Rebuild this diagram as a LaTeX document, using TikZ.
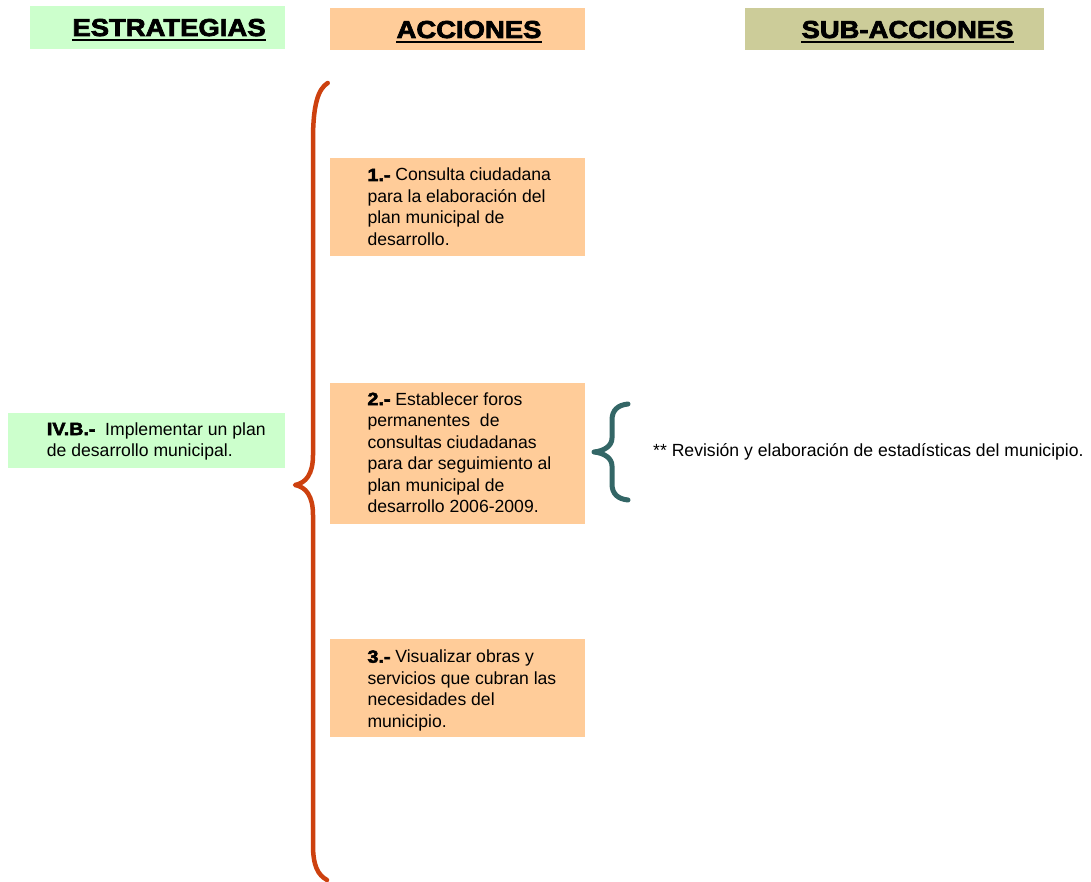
\documentclass[tikz,border=0pt]{standalone}
\usepackage{fontspec}
\setmainfont{Liberation Sans}
\newfontfamily\heavyfont{Liberation Sans Bold}[FakeBold=3,FakeStretch=1.12]
\definecolor{stratgreen}{RGB}{204,255,204}
\definecolor{actpeach}{RGB}{255,204,153}
\definecolor{subkhaki}{RGB}{204,204,153}
\definecolor{bracered}{RGB}{205,65,15}
\definecolor{braceteal}{RGB}{51,102,102}
\newcommand{\bodysize}{\fontsize{17.6}{21.5}\selectfont}
\newcommand{\blk}[1]{{\heavyfont #1}}
\begin{document}
\begin{tikzpicture}[x=1pt,y=-1pt,
  panel/.style={draw=none,inner sep=0,outer sep=0,anchor=north west},
  headtext/.style={inner sep=0,anchor=base,font=\heavyfont\fontsize{24.5}{28}\selectfont},
  bodytext/.style={inner sep=0,anchor=base west},
  uline/.style={line width=2pt},
  bigbrace/.style={draw=bracered,line width=4.5pt,line cap=round,line join=round},
  smallbrace/.style={draw=braceteal,line width=5pt,line cap=round,line join=round}]
\useasboundingbox (0,0) rectangle (1091,882);

% column headers
\node[panel,fill=stratgreen,minimum width=255pt,minimum height=43pt] (hE) at (30,6) {};
\node[panel,fill=actpeach,minimum width=255pt,minimum height=42pt] (hA) at (329.5,8) {};
\node[panel,fill=subkhaki,minimum width=299pt,minimum height=42pt] (hS) at (745,8) {};
\node[headtext] (tE) at (169,36) {ESTRATEGIAS};
\node[headtext] (tA) at (469,38) {ACCIONES};
\node[headtext] (tS) at (907.5,38) {SUB-ACCIONES};
\foreach \t in {tE,tA,tS}
  \draw[uline] ([yshift=-4.5pt]\t.base west) -- ([yshift=-4.5pt]\t.base east);

% strategy
\node[panel,fill=stratgreen,minimum width=277pt,minimum height=55pt] (st) at (8,413) {};
\node[bodytext] (stt) at (46.7,435) {\parbox[t]{235pt}{\bodysize\raggedright
  \blk{IV.B.-}\ \ Implementar un plan\\de desarrollo municipal.}};

% actions
\node[panel,fill=actpeach,minimum width=255pt,minimum height=97.7pt] (a1) at (329.5,158.3) {};
\node[panel,fill=actpeach,minimum width=255pt,minimum height=141.3pt] (a2) at (329.5,382.7) {};
\node[panel,fill=actpeach,minimum width=255pt,minimum height=98pt] (a3) at (329.5,639.3) {};
\node[bodytext] (a1t) at (367.3,181) {\parbox[t]{215pt}{\bodysize\raggedright
  \blk{1.-} Consulta ciudadana\\para la elaboración del\\plan municipal de\\desarrollo.}};
\node[bodytext] (a2t) at (367.3,405) {\parbox[t]{215pt}{\bodysize\raggedright
  \blk{2.-} Establecer foros\\permanentes\ \ de\\consultas ciudadanas\\para dar seguimiento al\\plan municipal de\\desarrollo 2006-2009.}};
\node[bodytext] (a3t) at (367.3,662.7) {\parbox[t]{215pt}{\bodysize\raggedright
  \blk{3.-} Visualizar obras y\\servicios que cubran las\\necesidades del\\municipio.}};

% sub-action
\node[bodytext] (s1) at (653,456.7) {\bodysize ** Revisión y elaboración de estadísticas del municipio.};

% brace grouping the actions
\draw[bigbrace] (327.7,83) .. controls (318,89) and (313,105) .. (313,140)
  -- (313,455) .. controls (313,474) and (306,483) .. (295,485)
  .. controls (306,487) and (313,496) .. (313,515)
  -- (313,845) .. controls (313,866) and (318,875) .. (327,880);

% brace grouping the sub-actions
\draw[smallbrace] (628,404) .. controls (618,405) and (612,410) .. (612,420)
  -- (612,438) .. controls (612,446) and (604,451) .. (594,452)
  .. controls (604,453) and (612,458) .. (612,466)
  -- (612,484) .. controls (612,494) and (618,499) .. (628,500);
\end{tikzpicture}
\end{document}
